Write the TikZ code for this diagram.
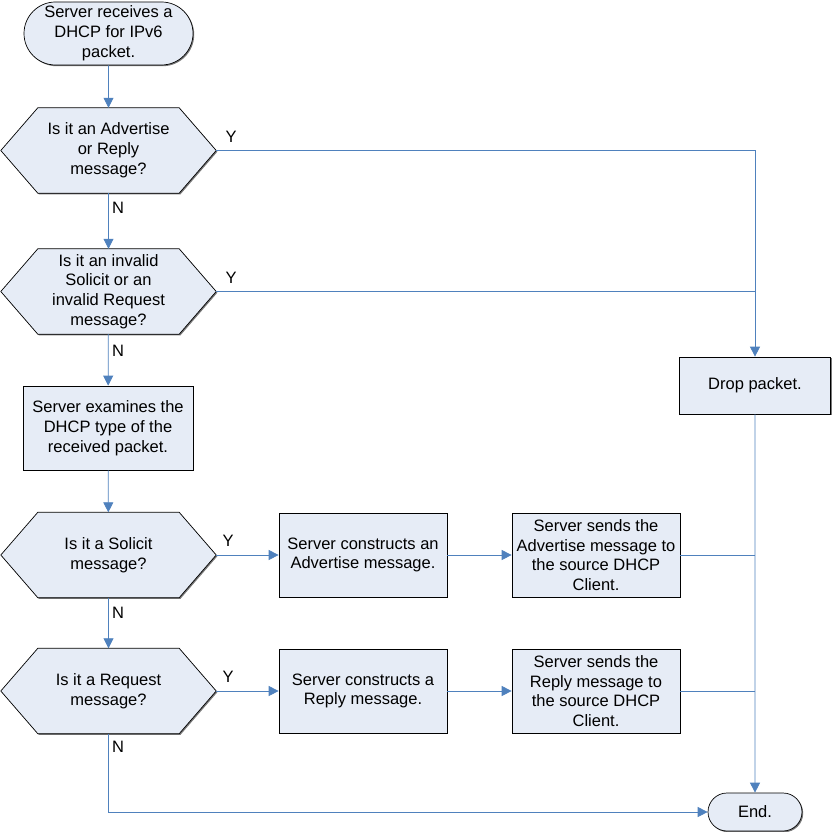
\documentclass[tikz,border=0pt]{standalone}
\usepackage{fontspec}
\setmainfont{Liberation Sans}
\usetikzlibrary{arrows.meta,shapes.misc,backgrounds,shadows}
\definecolor{lineblue}{RGB}{79,129,189}
\definecolor{boxfill}{RGB}{230,236,246}
\definecolor{shadowgray}{RGB}{120,120,120}
\begin{document}
\begin{tikzpicture}[x=1pt,y=-1pt,
  every node/.style={font=\fontsize{16.5}{19.8}\selectfont, align=center, inner sep=0pt},
  shade1/.style={drop shadow={shadow xshift=1.2pt,shadow yshift=-1.2pt,fill=shadowgray,opacity=1}},
  box/.style={rectangle, draw=black, fill=boxfill, line width=0.7pt, shade1},
  term/.style={rounded rectangle, draw=black, fill=boxfill, line width=0.7pt, shade1},
  hexbox/.style={rectangle, minimum width=215pt, minimum height=85pt},
  hexline/.style={draw=black, fill=boxfill, line width=0.7pt},
  conn/.style={draw=lineblue, line width=0.8pt},
  arr/.style={conn, -{Triangle[width=10pt,length=10pt]}},
  lbl/.style={}
]
\useasboundingbox (0,0) rectangle (831,832);

% nodes
\node[term, minimum width=169pt, minimum height=63pt] (start) at (108.5,33.5) {Server receives a\\DHCP for IPv6\\packet.};
\node[hexbox] (h1) at (108.5,150.5) {Is it an Advertise\\or Reply\\message?};
\node[hexbox] (h2) at (108.5,291.5) {Is it an invalid\\Solicit or an\\invalid Request\\message?};
\node[box, minimum width=170pt, minimum height=84pt] (exam) at (108,428) {Server examines the\\DHCP type of the\\received packet.};
\node[hexbox] (h3) at (108.5,555) {Is it a Solicit\\message?};
\node[hexbox] (h4) at (108.5,691) {Is it a Request\\message?};
\node[box, minimum width=168pt, minimum height=84pt] (c1) at (363,555) {Server constructs an\\Advertise message.};
\node[box, minimum width=168pt, minimum height=84pt] (c2) at (363,691) {Server constructs a\\Reply message.};
\node[box, minimum width=168pt, minimum height=84pt] (s1) at (596,555) {Server sends the\\Advertise message to\\the source DHCP\\Client.};
\node[box, minimum width=168pt, minimum height=84pt] (s2) at (596,691) {Server sends the\\Reply message to\\the source DHCP\\Client.};
\node[box, minimum width=151pt, minimum height=57pt] (drop) at (755,385.5) {Drop packet.};
\node[term, minimum width=94pt, minimum height=38pt] (end) at (755,812) {End.};

% hexagon outlines
\begin{scope}[on background layer]
\foreach \h in {h1,h2,h3,h4}{
  \fill[shadowgray, transform canvas={shift={(1.2pt,-1.2pt)}}] (\h.west) -- ([xshift=37pt]\h.north west) -- ([xshift=-37pt]\h.north east) -- (\h.east) -- ([xshift=-37pt]\h.south east) -- ([xshift=37pt]\h.south west) -- cycle;
  \path[hexline] (\h.west) -- ([xshift=37pt]\h.north west) -- ([xshift=-37pt]\h.north east) -- (\h.east) -- ([xshift=-37pt]\h.south east) -- ([xshift=37pt]\h.south west) -- cycle;
}
\end{scope}

% junctions
\coordinate (j1) at (755,150.5);
\coordinate (j2) at (755,291.5);
\coordinate (j3) at (755,555);
\coordinate (j4) at (755,691);
\coordinate (corner) at (108.5,812);

% connectors
\draw[arr] (start) -- (h1);
\draw[arr] (h1) -- (h2);
\draw[arr] (h2) -- (exam);
\draw[arr] (exam) -- (h3);
\draw[arr] (h3) -- (h4);
\draw[arr] (h3) -- (c1);
\draw[arr] (c1) -- (s1);
\draw[arr] (h4) -- (c2);
\draw[arr] (c2) -- (s2);
\draw[arr] (h1.east) -- (j1) -- (drop);
\draw[conn] (h2.east) -- (j2);
\draw[arr] (drop) -- (end);
\draw[conn] (s1.east) -- (j3);
\draw[conn] (s2.east) -- (j4);
\draw[arr] (h4.south) -- (corner) -- (end);

% labels
\node[lbl] (y1) at (231,137) {Y};
\node[lbl] (n1) at (118,208) {N};
\node[lbl] (y2) at (231,278) {Y};
\node[lbl] (n2) at (118,351) {N};
\node[lbl] (y3) at (228,541) {Y};
\node[lbl] (n3) at (118,613) {N};
\node[lbl] (y4) at (228,677) {Y};
\node[lbl] (n4) at (118,747) {N};
\end{tikzpicture}
\end{document}
